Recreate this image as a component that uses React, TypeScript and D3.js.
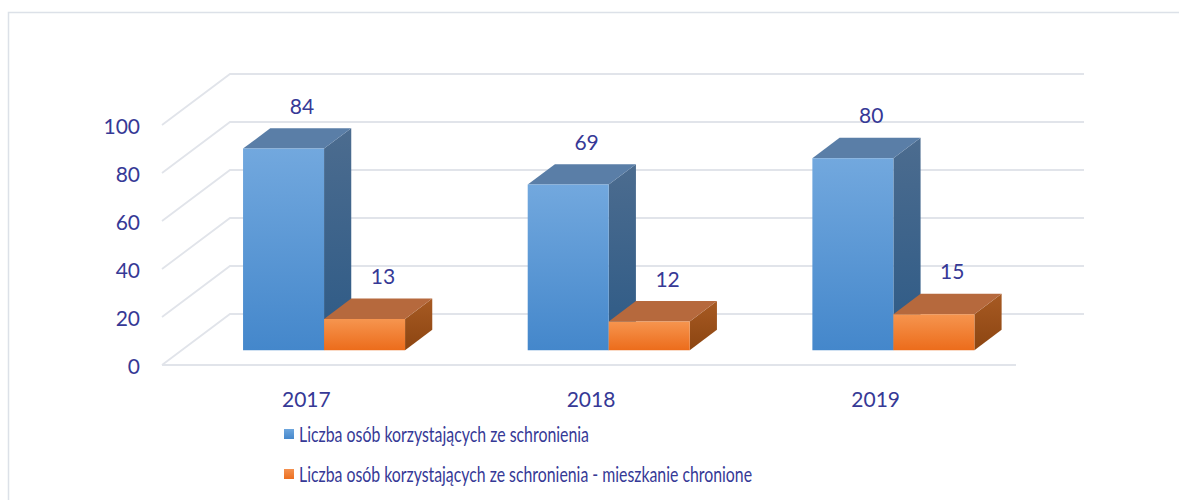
import React from 'react';
import * as d3 from 'd3';

// chart values
const categories = ['2017', '2018', '2019'];
const seriesNames = [
  'Liczba osób korzystających ze schronienia',
  'Liczba osób korzystających ze schronienia - mieszkanie chronione',
];
const shelterValues = [84, 69, 80];
const protectedFlatValues = [13, 12, 15];
const yTicks = [0, 20, 40, 60, 80, 100];

const W = 1179;
const H = 500;
const textColor = '#363996';
const gridColor = '#e1e4ea';

// oblique "3d" depth of the floor
const DX = 68;
const DY = -51;
const zFront = 0.29;
const zBack = 0.69;

const x = d3.scaleBand<string>().domain(categories).range([162, 1016]);
const inner = d3.scaleBand<number>().domain([0, 1]).range([0, x.bandwidth()]).paddingOuter(0.757);
const y = d3.scaleLinear().domain([0, 100]).range([365, 125]);

const proj = (px: number, v: number, z: number): [number, number] => [px + z * DX, y(v) + z * DY];
const poly = (pts: [number, number][]) => pts.map(p => p.join(',')).join(' ');

const palettes = [
  { front: ['#72a8de', '#4487cb'], side: ['#4c6c8f', '#2d5a86'], top: '#5a7ea7', legend: ['#6ea6dd', '#4688cc'] },
  { front: ['#f6954f', '#ec6c1b'], side: ['#a75a23', '#8c4511'], top: '#b6693d', legend: ['#f49150', '#ec6f20'] },
];

function Bar({ cat, s, v }: { cat: string; s: number; v: number }) {
  const x0 = (x(cat) as number) + (inner(s) as number);
  const x1 = x0 + inner.bandwidth();
  const front = poly([proj(x0, v, zFront), proj(x1, v, zFront), proj(x1, 0, zFront), proj(x0, 0, zFront)]);
  const top = poly([proj(x0, v, zFront), proj(x1, v, zFront), proj(x1, v, zBack), proj(x0, v, zBack)]);
  const side = poly([proj(x1, v, zFront), proj(x1, v, zBack), proj(x1, 0, zBack), proj(x1, 0, zFront)]);
  const [lx, ly] = proj((x0 + x1) / 2, v, 0.56);
  return (
    <g>
      <polygon points={side} fill={`url(#side${s})`} />
      <polygon points={top} fill={palettes[s].top} />
      <polygon points={front} fill={`url(#front${s})`} />
      <text x={lx} y={ly - 21} textAnchor="middle" fontSize={21} fill={textColor}>{v}</text>
    </g>
  );
}

export default function App() {
  const series = [shelterValues, protectedFlatValues];
  return (
    <svg width={W} height={H} style={{ position: 'absolute', left: 0, top: 0 }}
         fontFamily="Lato, 'Open Sans', sans-serif">
      <defs>
        {palettes.map((p, i) => (
          <React.Fragment key={i}>
            <linearGradient id={`front${i}`} x1="0" y1="0" x2="0" y2="1">
              <stop offset="0" stopColor={p.front[0]} />
              <stop offset="1" stopColor={p.front[1]} />
            </linearGradient>
            <linearGradient id={`side${i}`} x1="0" y1="0" x2="0" y2="1">
              <stop offset="0" stopColor={p.side[0]} />
              <stop offset="1" stopColor={p.side[1]} />
            </linearGradient>
            <linearGradient id={`leg${i}`} x1="0" y1="0" x2="0" y2="1">
              <stop offset="0" stopColor={p.legend[0]} />
              <stop offset="1" stopColor={p.legend[1]} />
            </linearGradient>
          </React.Fragment>
        ))}
      </defs>
      <rect x={0} y={0} width={W} height={H} fill="#fff" />
      <rect x={8.5} y={12.5} width={W + 20} height={H + 20} fill="none" stroke="#dce1e8" strokeWidth={1.5} />

      {/* walls and grid */}
      {yTicks.map(t => {
        const [fx, fy] = proj(162, t, 0);
        const [bx, by] = proj(162, t, 1);
        const [ex] = proj(1016, t, 1);
        return (
          <g key={t}>
            <polyline points={poly([[fx, fy], [bx, by], [ex, by]])} fill="none" stroke={gridColor} strokeWidth={1.8} />
            <text x={140} y={fy + 8.5} textAnchor="end" fontSize={21} fill={textColor}>{t}</text>
          </g>
        );
      })}
      <line x1={162} x2={1016} y1={y(0)} y2={y(0)} stroke={gridColor} strokeWidth={1.8} />

      {categories.map((c, i) => (
        <g key={c}>
          {series.map((vals, s) => <Bar key={s} cat={c} s={s} v={vals[i]} />)}
          <text x={(x(c) as number) + x.bandwidth() / 2 + 2} y={407} textAnchor="middle" fontSize={21} fill={textColor}>{c}</text>
        </g>
      ))}

      {/* legend */}
      {seriesNames.map((name, i) => (
        <g key={name} transform={`translate(284, ${429 + i * 40})`}>
          <rect x={0} y={0} width={10} height={10} fill={`url(#leg${i})`} />
          <text x={15} y={12.5} fontSize={21} fill={textColor} textLength={i === 0 ? 290 : 453}
                lengthAdjust="spacingAndGlyphs">{name}</text>
        </g>
      ))}
    </svg>
  );
}
